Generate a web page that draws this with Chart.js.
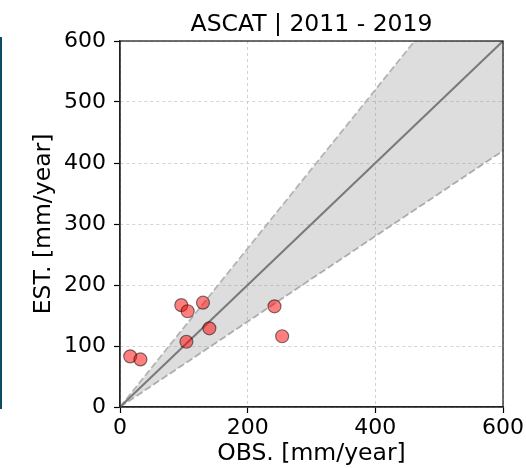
<!DOCTYPE html>
<html>
<head>
<meta charset="utf-8">
<script src="https://cdn.jsdelivr.net/npm/chart.js@4"></script>
<style>
    body { margin: 0; background: #fff; }
    #wrap { position: relative; width: 526px; height: 468px; }
    #edge { position: absolute; left: 0; top: 37px; width: 2px; height: 372px; background: #0f4c64; }
</style>
</head>
<body>
<div id="wrap">
    <canvas id="chart" width="526" height="468"></canvas>
    <div id="edge"></div>
</div>
<script>
// Beobachtet vs. geschaetzt (mm/Jahr)
const obs = [16, 32, 96, 106, 130, 140, 104, 242, 254];
const est = [83, 78, 167, 157, 171, 129, 107, 165, 116];

// Referenzlinien: 1:1 und +/-30 %
const lineX = [0, 600];
const oneToOne = [0, 600];
const upperBand = [0, 780];
const lowerBand = [0, 420];

const xTicks = [0, 200, 400, 600];
const yTicks = [0, 100, 200, 300, 400, 500, 600];

const TICK_FONT = { family: 'DejaVu Sans', size: 22 };
const LABEL_FONT = { family: 'DejaVu Sans', size: 23.5 };

const toPoints = (xs, ys) => xs.map((x, i) => ({ x: x, y: ys[i] }));

// Titel und Rahmen wie bei matplotlib
const framePlugin = {
    id: 'frame',
    afterDatasetsDraw(chart) {
        const { ctx, chartArea: a } = chart;
        ctx.save();
        ctx.setLineDash([]);
        ctx.strokeStyle = '#222';
        ctx.lineWidth = 1.3;
        ctx.strokeRect(a.left, a.top, a.right - a.left, a.bottom - a.top);
        ctx.restore();
    },
    afterDraw(chart) {
        const { ctx, chartArea: a } = chart;
        ctx.save();
        ctx.fillStyle = '#000';
        ctx.font = '23.5px "DejaVu Sans"';
        ctx.textAlign = 'center';
        ctx.textBaseline = 'alphabetic';
        ctx.fillText('ASCAT | 2011 - 2019', (a.left + a.right) / 2, 31);
        ctx.restore();
    }
};

const gridOpts = {
    color: '#c8c8c8',
    lineWidth: 0.8,
    tickLength: 6,
    tickColor: '#000',
    tickWidth: 1.2,
    tickBorderDash: []
};
const borderOpts = { display: true, color: '#222', width: 1.3, dash: [3, 3] };

const ctx = document.getElementById('chart').getContext('2d');
new Chart(ctx, {
    type: 'scatter',
    data: {
        datasets: [{
            label: 'Stationen',
            data: toPoints(obs, est),
            backgroundColor: 'rgba(255, 0, 0, 0.5)',
            borderColor: 'rgba(0, 0, 0, 0.5)',
            borderWidth: 1.2,
            pointRadius: 6.5
        }, {
            label: '1:1',
            data: toPoints(lineX, oneToOne),
            showLine: true,
            borderColor: '#7a7a7a',
            borderWidth: 2,
            pointRadius: 0
        }, {
            label: '+30%',
            data: toPoints(lineX, upperBand),
            showLine: true,
            borderColor: '#b4b4b4',
            borderWidth: 1.8,
            borderDash: [7, 3],
            pointRadius: 0,
            fill: '+1',
            backgroundColor: 'rgba(128, 128, 128, 0.27)'
        }, {
            label: '-30%',
            data: toPoints(lineX, lowerBand),
            showLine: true,
            borderColor: '#b4b4b4',
            borderWidth: 1.8,
            borderDash: [7, 3],
            pointRadius: 0
        }]
    },
    options: {
        responsive: false,
        devicePixelRatio: 1,
        animation: false,
        layout: { padding: { top: 41, right: 22, left: 0, bottom: 0 } },
        plugins: {
            legend: { display: false },
            tooltip: { enabled: false }
        },
        scales: {
            x: {
                type: 'linear',
                min: 0,
                max: 600,
                afterFit: s => { s.height = 61; },
                afterBuildTicks: s => { s.ticks = xTicks.map(v => ({ value: v })); },
                ticks: { font: TICK_FONT, color: '#000', padding: 2, maxRotation: 0 },
                grid: gridOpts,
                border: borderOpts,
                title: {
                    display: true,
                    text: 'OBS. [mm/year]',
                    font: LABEL_FONT,
                    color: '#000',
                    padding: { top: 0, bottom: 0 }
                }
            },
            y: {
                type: 'linear',
                min: 0,
                max: 600,
                afterFit: s => { s.width = 120; },
                afterBuildTicks: s => { s.ticks = yTicks.map(v => ({ value: v })); },
                ticks: { font: TICK_FONT, color: '#000', padding: 8 },
                grid: gridOpts,
                border: borderOpts,
                title: {
                    display: true,
                    text: 'EST. [mm/year]',
                    font: LABEL_FONT,
                    color: '#000',
                    padding: { top: 30, bottom: 0 }
                }
            }
        }
    },
    plugins: [framePlugin]
});
</script>
</body>
</html>
